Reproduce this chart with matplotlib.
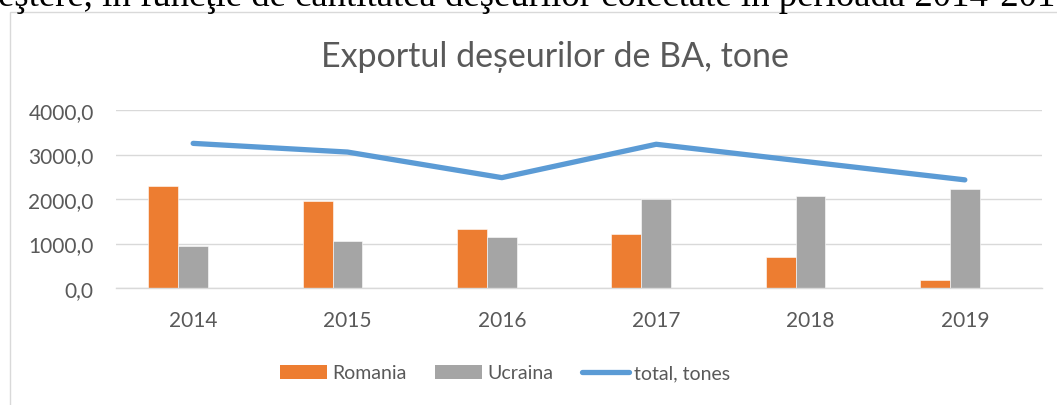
import numpy as np
import matplotlib
matplotlib.use('Agg')
import matplotlib.pyplot as plt
from matplotlib.patches import Rectangle, Patch
from matplotlib.lines import Line2D

# Date
years = ['2014', '2015', '2016', '2017', '2018', '2019']
romania = [2285, 1965, 1325, 1205, 700, 180]
ucraina = [950, 1055, 1135, 2000, 2070, 2220]
total = [3250, 3055, 2480, 3230, 2830, 2430]

plt.rcParams['font.family'] = ['Lato', 'DejaVu Sans']
txt_color = '#595959'
grid_color = '#d9d9d9'

W, H = 1057, 406
fig = plt.figure(figsize=(W / 100, H / 100), dpi=100)

# textul din document, taiat sus
fig.text(-2 / W, 1 - 6 / H,
         'eştere, în funcţie de cantitatea deşeurilor colectate în perioada 2014-2019',
         family='Liberation Serif', fontsize=26.5, color='black', va='baseline', ha='left')

# chenarul graficului
fig.patches.append(Rectangle((10 / W, -0.1), 1.2, 1.1 - 13 / H, transform=fig.transFigure,
                             fill=False, edgecolor=grid_color, lw=1.0))

ax = fig.add_axes([116 / W, 1 - 289 / H, (1042 - 116) / W, (289 - 111) / H])

x = np.arange(len(years))
w = 0.194
ax.bar(x - w, romania, width=w, color='#ED7D31', edgecolor='white', linewidth=0.4, zorder=2)
ax.bar(x, ucraina, width=w, color='#A5A5A5', edgecolor='white', linewidth=0.4, zorder=2)
ax.plot(x, total, color='#5B9BD5', lw=3.8, solid_capstyle='round', solid_joinstyle='round', zorder=3)

ax.set_xlim(-0.5, len(years) - 0.5)
ax.set_ylim(0, 4000)
ax.set_yticks([0, 1000, 2000, 3000, 4000])
ax.set_yticklabels([f'{v:.1f}'.replace('.', ',') for v in [0, 1000, 2000, 3000, 4000]])
ax.set_xticks(x)
ax.set_xticklabels(years)
ax.tick_params(axis='both', length=0, labelsize=15, colors=txt_color)
ax.tick_params(axis='y', pad=16)
ax.tick_params(axis='x', pad=16)
ax.grid(axis='y', color=grid_color, lw=1.0, zorder=0)
for s in ['top', 'right', 'left']:
    ax.spines[s].set_visible(False)
ax.spines['bottom'].set_color(grid_color)
ax.spines['bottom'].set_linewidth(1.0)
ax.set_axisbelow(True)

fig.text(555 / W, 1 - 57 / H, 'Exportul deșeurilor de BA, tone', fontsize=24.5,
         color=txt_color, ha='center', va='center')

handles = [Patch(facecolor='#ED7D31', label='Romania'),
           Patch(facecolor='#A5A5A5', label='Ucraina'),
           Line2D([0], [0], color='#5B9BD5', lw=3.8, solid_capstyle='round', label='total, tones')]
fig.legend(handles=handles, loc='center', bbox_to_anchor=(505 / W, 1 - 374 / H), ncol=3,
           frameon=False, fontsize=14, labelcolor=txt_color, handlelength=2.4,
           handleheight=0.72, handletextpad=0.25, columnspacing=1.5)

fig.savefig('out.png', dpi=100)
